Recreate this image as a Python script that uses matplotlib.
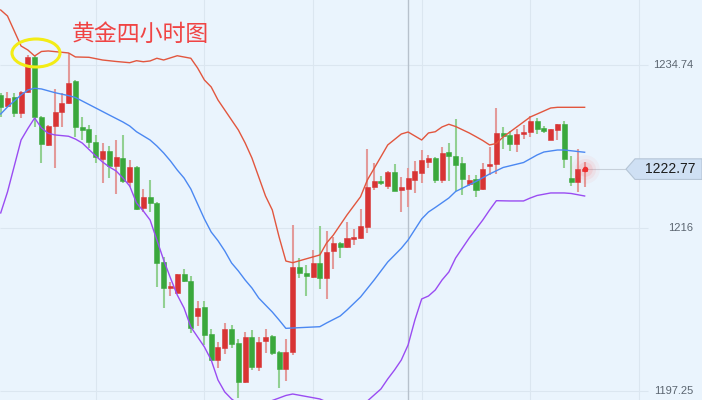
import matplotlib
matplotlib.use("Agg")
import matplotlib.pyplot as plt
from matplotlib.patches import Ellipse, Polygon
from matplotlib.transforms import Affine2D, blended_transform_factory
import numpy as np

# 4-hour gold candles (index 0 = leftmost bar)
opens = [1231.30, 1230.03, 1231.07, 1229.23, 1231.64, 1235.67, 1228.77, 1225.55, 1227.73, 1229.34,
         1230.38, 1232.91, 1227.62, 1227.39, 1225.89, 1223.94, 1224.86, 1223.13, 1224.05, 1221.29,
         1223.02, 1218.30, 1219.57, 1218.88, 1212.09, 1209.10, 1208.53, 1210.71, 1209.91, 1205.88,
         1206.92, 1203.81, 1200.82, 1202.20, 1204.39, 1202.78, 1198.29, 1203.47, 1200.02, 1203.01,
         1203.58, 1201.74, 1199.79, 1201.74, 1211.52, 1210.83, 1210.37, 1211.98, 1210.25, 1213.36,
         1214.28, 1213.82, 1214.74, 1214.85, 1216.12, 1220.72, 1221.41, 1220.83, 1222.44, 1220.37,
         1220.49, 1221.52, 1222.33, 1223.59, 1224.05, 1221.52, 1224.74, 1224.28, 1223.48, 1221.06,
         1221.64, 1220.49, 1223.13, 1223.36, 1226.93, 1226.70, 1225.66, 1226.81, 1227.04, 1228.31,
         1227.50, 1226.12, 1227.27, 1227.96, 1221.75, 1221.29, 1222.56]
closes = [1229.92, 1230.95, 1229.23, 1231.64, 1235.67, 1228.77, 1225.66, 1227.73, 1229.34, 1230.38,
          1232.68, 1227.62, 1227.27, 1225.89, 1224.17, 1224.86, 1223.13, 1224.17, 1221.41, 1223.02,
          1218.19, 1219.57, 1218.88, 1211.97, 1209.10, 1209.33, 1210.71, 1209.91, 1204.50, 1206.80,
          1203.70, 1200.82, 1202.32, 1204.39, 1202.66, 1198.29, 1203.47, 1200.02, 1202.89, 1203.47,
          1201.62, 1199.79, 1201.74, 1211.52, 1210.83, 1210.48, 1211.98, 1210.25, 1213.24, 1214.28,
          1213.82, 1214.85, 1214.97, 1216.23, 1220.72, 1221.41, 1221.18, 1222.44, 1220.26, 1220.72,
          1221.75, 1222.56, 1223.82, 1224.05, 1221.52, 1224.63, 1224.28, 1223.25, 1221.64, 1221.52,
          1220.37, 1222.79, 1223.36, 1226.93, 1226.58, 1225.66, 1226.81, 1227.04, 1228.31, 1227.39,
          1227.16, 1227.39, 1227.96, 1223.94, 1221.29, 1222.79, 1222.77]
highs = [1231.52, 1231.64, 1231.52, 1231.76, 1235.90, 1235.90, 1228.88, 1227.85, 1231.99, 1231.52,
         1236.13, 1233.02, 1228.77, 1227.85, 1226.70, 1225.78, 1225.43, 1226.12, 1226.70, 1223.82,
         1223.13, 1220.49, 1221.52, 1218.99, 1212.67, 1209.79, 1210.71, 1211.29, 1210.48, 1207.60,
         1207.60, 1204.39, 1202.89, 1205.08, 1204.85, 1203.24, 1204.04, 1204.27, 1203.47, 1204.39,
         1203.70, 1201.86, 1203.24, 1216.35, 1212.55, 1211.75, 1213.47, 1216.23, 1215.66, 1214.97,
         1214.39, 1216.69, 1215.89, 1218.18, 1225.09, 1223.48, 1221.98, 1222.56, 1223.36, 1221.87,
         1222.90, 1223.71, 1224.97, 1224.40, 1224.17, 1225.32, 1225.78, 1228.54, 1224.17, 1222.10,
         1222.10, 1223.48, 1225.32, 1229.80, 1227.62, 1227.16, 1227.39, 1227.85, 1228.88, 1228.65,
         1227.73, 1227.39, 1227.96, 1228.31, 1224.28, 1225.09, 1223.59]
lows = [1228.77, 1229.92, 1228.77, 1228.65, 1231.52, 1227.62, 1223.48, 1225.43, 1222.90, 1227.62,
        1230.26, 1226.47, 1226.12, 1225.20, 1223.48, 1221.18, 1221.75, 1219.91, 1221.18, 1220.72,
        1218.07, 1217.84, 1217.84, 1209.22, 1206.80, 1208.18, 1208.53, 1209.79, 1203.93, 1204.73,
        1202.55, 1200.71, 1199.90, 1201.51, 1202.20, 1196.45, 1198.17, 1199.67, 1199.56, 1201.62,
        1201.39, 1197.60, 1198.41, 1201.39, 1210.25, 1208.18, 1210.25, 1208.99, 1207.84, 1211.29,
        1212.55, 1213.70, 1214.05, 1214.74, 1215.43, 1220.37, 1220.95, 1220.49, 1220.26, 1217.84,
        1218.42, 1220.03, 1221.18, 1222.90, 1221.18, 1221.18, 1221.41, 1220.26, 1219.80, 1220.83,
        1219.57, 1220.37, 1222.10, 1222.21, 1225.09, 1224.86, 1224.74, 1226.24, 1226.47, 1226.81,
        1226.93, 1226.12, 1226.12, 1222.90, 1220.83, 1220.14, 1220.76]

# Bollinger bands at bar indices
upper_idx = [0, 1, 3, 4, 5, 6, 7, 10, 11, 13, 15, 17, 19, 20, 21, 22, 23, 24, 26, 28, 29, 30, 31, 32,
             33, 34, 35, 36, 37, 38, 39, 40, 41, 42, 43, 47, 48, 49, 51, 53, 54, 56, 57, 59, 60, 62,
             63, 64, 65, 66, 67, 69, 70, 71, 72, 73, 74, 76, 78, 79, 81, 82, 86]
upper_val = [1241.07, 1240.38, 1236.93, 1236.47, 1235.78, 1236.30, 1236.36, 1236.13, 1235.67, 1235.63,
             1235.32, 1235.15, 1235.01, 1235.24, 1235.12, 1235.21, 1235.52, 1235.32, 1235.81, 1235.52,
             1234.40, 1233.02, 1232.22, 1230.72, 1229.57, 1228.42, 1227.27, 1225.78, 1224.05, 1221.87,
             1219.68, 1218.07, 1214.97, 1212.20, 1212.01, 1212.90, 1214.28, 1215.20, 1217.50, 1219.60,
             1221.52, 1224.20, 1225.55, 1226.81, 1227.04, 1226.12, 1226.93, 1227.07, 1227.62, 1227.93,
             1227.67, 1226.93, 1226.50, 1226.06, 1225.55, 1225.72, 1226.47, 1227.62, 1228.77, 1229.11,
             1229.80, 1229.88, 1229.88]
mid_idx = [0, 1, 2, 3, 4, 5, 6, 8, 10, 11, 14, 16, 18, 19, 20, 22, 23, 24, 25, 26, 27, 28, 29, 30,
           31, 32, 33, 34, 35, 36, 37, 38, 39, 40, 41, 42, 43, 47, 48, 50, 51, 53, 55, 57, 59, 60,
           62, 63, 64, 66, 67, 70, 72, 74, 77, 79, 80, 82, 83, 86]
mid_val = [1229.11, 1229.92, 1230.61, 1231.30, 1231.87, 1232.07, 1231.99, 1231.56, 1231.22, 1231.01,
           1229.80, 1228.99, 1228.19, 1227.73, 1227.07, 1226.12, 1225.43, 1224.63, 1223.71, 1222.67,
           1221.75, 1220.49, 1218.76, 1217.04, 1215.54, 1214.54, 1213.36, 1211.98, 1211.06, 1210.02,
           1209.10, 1207.95, 1207.14, 1206.34, 1205.42, 1204.46, 1204.50, 1204.65, 1205.08, 1205.88,
           1206.57, 1208.07, 1210.02, 1212.09, 1213.67, 1214.62, 1217.04, 1217.84, 1218.36, 1219.45,
           1220.20, 1221.35, 1222.21, 1222.96, 1223.53, 1224.40, 1224.74, 1224.97, 1224.97, 1224.71]
low_idx = [0, 1, 2, 3, 4, 5, 6, 7, 8, 10, 11, 12, 13, 14, 15, 16, 17, 18, 19, 20, 21, 22, 23, 24,
           25, 26, 27, 28, 29, 30, 31, 32, 33, 34, 35, 38, 41, 42, 43, 47, 49, 51, 53, 54, 56, 57,
           58, 59, 60, 61, 62, 63, 64, 65, 66, 67, 68, 69, 71, 72, 73, 75, 77, 78, 79, 81, 83, 84, 86]
low_val = [1217.73, 1220.14, 1223.13, 1226.12, 1227.44, 1228.65, 1227.50, 1226.89, 1226.70,
           1226.55, 1226.23, 1225.78, 1225.03, 1224.28, 1223.59, 1223.02, 1222.56, 1221.75, 1220.83,
           1218.88, 1217.96, 1216.92, 1214.62, 1212.32, 1210.25, 1208.30, 1206.80, 1204.62, 1203.47,
           1202.32, 1200.82, 1198.52, 1197.14, 1196.34, 1195.76,
           1195.60, 1196.45, 1196.74, 1196.91, 1196.34, 1195.65, 1195.30, 1195.53, 1196.10,
           1197.49, 1198.64, 1199.67, 1200.82, 1202.55, 1205.42, 1207.84, 1208.18, 1208.87, 1210.02,
           1210.94, 1212.55, 1213.70, 1214.85, 1216.92, 1218.07, 1219.14, 1219.11, 1219.11, 1219.45,
           1219.74, 1220.03, 1220.03, 1219.97, 1219.68]

price_ticks = [1234.74, 1216, 1197.25]
tick_labels = ["1234.74", "1216", "1197.25"]
last_price = 1222.77
title = "黄金四小时图"

W, H = 702, 400
BG = "#eaf4fd"

def px2i(px):
    # screen x pixel -> bar index (bars are ~6.79 px apart)
    return (px - 0.7) / 6.79

fig = plt.figure(figsize=(W / 100, H / 100), dpi=100)
fig.patch.set_facecolor(BG)
ax = fig.add_axes([0, 0, 1, 1])
ax.set_facecolor(BG)
ax.set_xlim(px2i(0), px2i(W))
ax.set_ylim(1196.22, 1242.22)
ax.axis("off")

pix = Affine2D().scale(1 / W, -1 / H).translate(0, 1) + ax.transAxes

# grid
ax.hlines(price_ticks, px2i(0), px2i(648), color="#dbe6f0", lw=0.8, zorder=0)
ax.vlines([14, 30, 46, 62, 78, 94], 1190, 1250, color="#dbe6f0", lw=0.8, zorder=0)
ax.axvline(60, color="#b7c1cc", lw=1.0, zorder=1)

# candles: red = up, green = down
o = np.array(opens); c = np.array(closes)
hi = np.array(highs); lo = np.array(lows)
idx = np.arange(len(o))
up = c >= o
body_col = np.where(up, "#d83434", "#3aa83c")
wick_col = np.where(up, "#e39a9a", "#92d092")
ax.vlines(idx, lo, hi, colors=wick_col, lw=1.5, zorder=3)
ax.bar(idx, np.maximum(np.abs(c - o), 0.15), bottom=np.minimum(o, c), width=0.74,
       color=body_col, edgecolor=body_col, lw=0.4, zorder=4)

# bollinger bands
ax.plot(upper_idx, upper_val, color="#e2563e", lw=1.0, zorder=5)
ax.plot(mid_idx, mid_val, color="#4b88f2", lw=1.0, zorder=5)
ax.plot(low_idx, low_val, color="#9a4cf2", lw=1.0, zorder=5)

# last price marker and line
ax.hlines(last_price, len(o) - 1, px2i(626), color="#c7d0da", lw=0.8, zorder=2)
for s, a in [(420, 0.05), (230, 0.08), (110, 0.12)]:
    ax.scatter([len(o) - 1], [last_price], s=s, color="#ff5a5a", alpha=a, lw=0, zorder=6)
ax.scatter([len(o) - 1], [last_price], s=16, color="#ee2f2f", lw=0, zorder=7)

# price label box
bt = blended_transform_factory(ax.transAxes, ax.transData)
hh = 10.3 * 0.115
box = Polygon([(626 / W, last_price), (635 / W, last_price + hh), (1.0, last_price + hh),
               (1.0, last_price - hh), (635 / W, last_price - hh)], closed=True,
              transform=bt, facecolor="#cfe0f4", edgecolor="#b5c5d6", lw=0.8, zorder=6)
ax.add_patch(box)
ax.text(670 / W, last_price, f"{last_price:.2f}", transform=bt, ha="center", va="center",
        fontsize=10, color="#1c1c1c", family="Liberation Sans", zorder=7)

# right-hand price labels
for p, lab in zip(price_ticks, tick_labels):
    ax.text(693 / W, p, lab, transform=bt, ha="right", va="center", fontsize=8,
            color="#5b6570", family="Liberation Sans")

# title and highlight ellipse
ax.text(72, 34, title, transform=pix, ha="left", va="center", fontsize=16.5,
        color="#f04444", family=["Noto Sans CJK SC", "DejaVu Sans"], zorder=8)
ax.add_patch(Ellipse((36, 53), 48, 28, transform=pix, fill=False,
                     edgecolor="#f3ec16", lw=2.2, zorder=8))

fig.savefig("out.png", dpi=100, facecolor=BG)
